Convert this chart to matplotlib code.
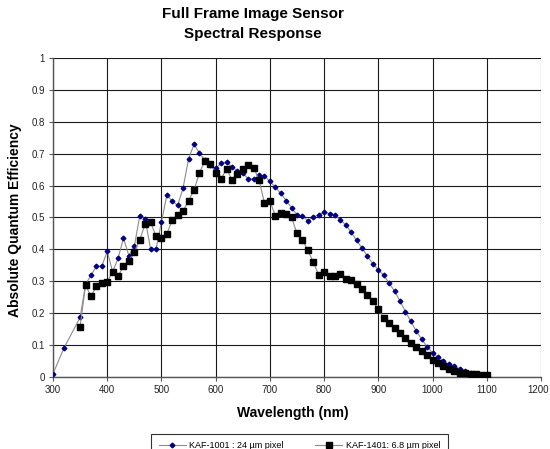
import matplotlib
matplotlib.use("Agg")
import matplotlib.pyplot as plt
from matplotlib.lines import Line2D
from matplotlib.transforms import ScaledTranslation

plt.rcParams['font.family'] = ['Liberation Sans', 'DejaVu Sans']

# KAF-1001 : 24 um pixel
wl_1001 = [300, 320, 350, 360, 370, 380, 390, 400, 410, 420, 430, 440, 450,
           460, 470, 480, 490, 500, 510, 520, 530, 540, 550, 560, 570, 580,
           590, 600, 610, 620, 630, 640, 650, 660, 670, 680, 690, 700, 710,
           720, 730, 740, 750, 760, 770, 780, 790, 800, 810, 820, 830, 840,
           850, 860, 870, 880, 890, 900, 910, 920, 930, 940, 950, 960, 970,
           980, 990, 1000, 1010, 1020, 1030, 1040, 1050, 1060, 1070, 1080,
           1090, 1100]
qe_1001 = [0.010, 0.090, 0.187, 0.290, 0.319, 0.347, 0.347, 0.394, 0.330,
           0.372, 0.435, 0.380, 0.410, 0.506, 0.494, 0.401, 0.401, 0.486,
           0.571, 0.551, 0.538, 0.593, 0.684, 0.729, 0.702, 0.680, 0.665,
           0.654, 0.670, 0.673, 0.659, 0.645, 0.638, 0.622, 0.620, 0.632,
           0.630, 0.613, 0.595, 0.576, 0.553, 0.530, 0.509, 0.504, 0.490,
           0.502, 0.508, 0.517, 0.512, 0.508, 0.492, 0.477, 0.453, 0.428,
           0.404, 0.378, 0.355, 0.336, 0.319, 0.294, 0.269, 0.238, 0.205,
           0.174, 0.144, 0.118, 0.095, 0.076, 0.062, 0.051, 0.040, 0.034,
           0.026, 0.019, 0.014, 0.010, 0.007, 0.005]

# KAF-1401: 6.8 um pixel
wl_1401 = list(range(350, 1101, 10))
qe_1401 = [0.158, 0.288, 0.254, 0.284, 0.296, 0.299, 0.330, 0.317, 0.347,
           0.365, 0.393, 0.430, 0.480, 0.485, 0.441, 0.435, 0.448, 0.493,
           0.508, 0.521, 0.553, 0.586, 0.639, 0.678, 0.668, 0.640, 0.622,
           0.651, 0.619, 0.636, 0.651, 0.666, 0.656, 0.618, 0.545, 0.551,
           0.506, 0.513, 0.511, 0.500, 0.450, 0.431, 0.397, 0.360, 0.320,
           0.330, 0.317, 0.317, 0.323, 0.307, 0.305, 0.291, 0.275, 0.257,
           0.238, 0.212, 0.184, 0.170, 0.155, 0.139, 0.123, 0.106, 0.094,
           0.081, 0.069, 0.054, 0.043, 0.033, 0.025, 0.018, 0.014, 0.011,
           0.009, 0.008, 0.007, 0.006]

x_ticks = [300, 400, 500, 600, 700, 800, 900, 1000, 1100, 1200]
y_ticks = [0, 0.1, 0.2, 0.3, 0.4, 0.5, 0.6, 0.7, 0.8, 0.9, 1]
y_tick_labels = ["0", "0.1", "0.2", "0.3", "0.4", "0.5", "0.6", "0.7", "0.8", "0.9", "1"]

label_1001 = "KAF-1001 : 24 \u00b5m pixel"
label_1401 = "KAF-1401: 6.8 \u00b5m pixel"

W, H = 550, 449
fig = plt.figure(figsize=(W / 100, H / 100), dpi=100)
ax = fig.add_axes([53 / W, 1 - 377 / H, 488 / W, 319 / H])

line_col = "#8c8c8c"
ax.plot(wl_1001, qe_1001, color=line_col, lw=0.8, marker="D", ms=2.4,
        mfc="#000080", mec="#000080", zorder=3)
ax.plot(wl_1401, qe_1401, color=line_col, lw=0.8, marker="s", ms=4.5,
        mfc="black", mec="black", zorder=4)

ax.set_xlim(300, 1200)
ax.set_ylim(0, 1)
ax.set_xticks(x_ticks)
ax.set_yticks(y_ticks)
ax.set_yticklabels(y_tick_labels)
ax.grid(True, color="#1a1a1a", lw=0.8, zorder=0)
ax.set_axisbelow(True)
for side in ("top", "right"):
    ax.spines[side].set_visible(False)
for side in ("left", "bottom"):
    ax.spines[side].set_color("#555555")
    ax.spines[side].set_linewidth(1.0)
ax.tick_params(axis="both", direction="out", length=3, width=0.8,
               color="#555555", labelsize=7, labelcolor="#222222", pad=3)

# keep the last x tick label inside the canvas
fig.canvas.draw()
last = ax.get_xticklabels()[-1]
last.set_transform(last.get_transform() + ScaledTranslation(-2.5 / 100, 0, fig.dpi_scale_trans))

fig.text(253 / W, 1 - 18 / H, "Full Frame Image Sensor", ha="center",
         va="baseline", fontsize=11, fontweight="bold")
fig.text(253 / W, 1 - 37.7 / H, "Spectral Response", ha="center",
         va="baseline", fontsize=11, fontweight="bold")
fig.text(293 / W, 1 - 416.7 / H, "Wavelength (nm)", ha="center",
         va="baseline", fontsize=10, fontweight="bold")
fig.text(15 / W, 1 - 220 / H, "Absolute Quantum Efficiency", ha="center",
         va="center", rotation=90, fontsize=10, fontweight="bold")

handles = [
    Line2D([], [], color=line_col, lw=0.8, marker="D", ms=2.4,
           mfc="#000080", mec="#000080"),
    Line2D([], [], color=line_col, lw=0.8, marker="s", ms=4.5,
           mfc="black", mec="black"),
]
leg = fig.legend(handles, [label_1001, label_1401], loc="upper center",
                 bbox_to_anchor=(299.5 / W, 1 - 429 / H), ncol=2,
                 fontsize=6.5, frameon=True, fancybox=False,
                 edgecolor="black", handlelength=3, columnspacing=3.5,
                 borderpad=0.8, handletextpad=0.4)
leg.get_frame().set_linewidth(0.8)

fig.savefig("out.png", dpi=100)
